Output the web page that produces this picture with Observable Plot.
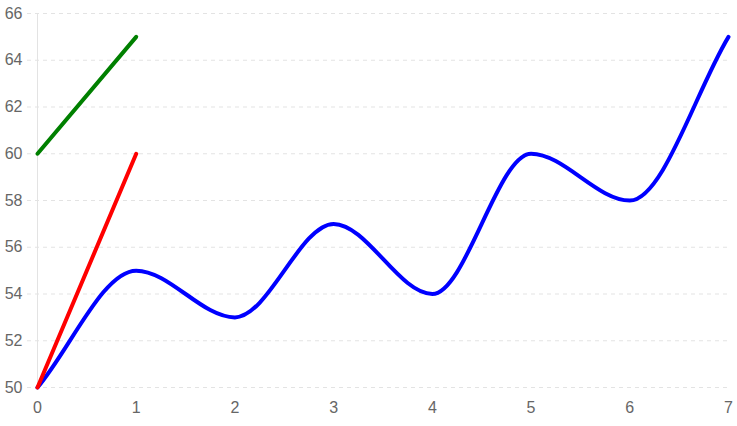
<!DOCTYPE html>
<html><head><meta charset="utf-8">
<script src="https://cdn.jsdelivr.net/npm/d3@7"></script>
<script src="https://cdn.jsdelivr.net/npm/@observablehq/plot@0.6"></script>
<style>body{margin:0;background:#fff}</style>
</head><body><div id="chart"></div>
<script>
const xs = [0,1,2,3,4,5,6,7];
const blueValues = [50,55,53,57,54,60,58,65];
const redX = [0,1];
const redValues = [50,60];
const greenX = [0,1];
const greenValues = [60,65];
const yTicks = [50,52,54,56,58,60,62,64,66];

const blue = xs.map((x,i)=>({x, y: blueValues[i]}));
const red = redX.map((x,i)=>({x, y: redValues[i]}));
const green = greenX.map((x,i)=>({x, y: greenValues[i]}));

// Fritsch–Carlson monotone cubic (one-sided endpoint slopes) as a d3 curve factory
function monotoneFC(context) {
  let pts = [];
  return {
    areaStart() {}, areaEnd() {},
    lineStart() { pts = []; },
    point(x, y) { pts.push([+x, +y]); },
    lineEnd() {
      const n = pts.length;
      if (!n) return;
      context.moveTo(pts[0][0], pts[0][1]);
      if (n === 1) return;
      const d = [], m = new Array(n);
      for (let i = 0; i < n - 1; i++) d[i] = (pts[i+1][1]-pts[i][1])/(pts[i+1][0]-pts[i][0]);
      m[0] = d[0]; m[n-1] = d[n-2];
      for (let i = 1; i < n - 1; i++) {
        m[i] = (d[i-1] === 0 || d[i] === 0 || Math.sign(d[i-1]) !== Math.sign(d[i])) ? 0 : (d[i-1]+d[i])/2;
      }
      for (let i = 0; i < n - 1; i++) {
        if (d[i] === 0) { m[i] = m[i+1] = 0; continue; }
        const a = m[i]/d[i], b = m[i+1]/d[i], s = a*a + b*b;
        if (s > 9) { const t = 3/Math.sqrt(s); m[i] = a*t*d[i]; m[i+1] = b*t*d[i]; }
      }
      for (let i = 0; i < n - 1; i++) {
        const [x0,y0] = pts[i], [x1,y1] = pts[i+1], h = (x1-x0)/3;
        context.bezierCurveTo(x0+h, y0+m[i]*h, x1-h, y1-m[i+1]*h, x1, y1);
      }
    }
  };
}

const chart = Plot.plot({
  width: 737, height: 426,
  marginLeft: 37, marginRight: 9, marginTop: 13, marginBottom: 39,
  style: {fontFamily: "Liberation Sans, Arial, sans-serif", fontSize: "16px", color: "#666", background: "#fff"},
  x: {domain: [0,7], ticks: xs, tickSize: 0, tickPadding: 14, label: null, tickFormat: d=>d},
  y: {domain: [50,66], ticks: yTicks, tickSize: 0, tickPadding: 15, label: null},
  marks: [
    Plot.ruleY(yTicks, {stroke: "#e3e3e3", strokeWidth: 1, strokeDasharray: "4,4", insetLeft: -10}),
    Plot.ruleX([0], {stroke: "#e3e3e3", strokeWidth: 1}),
    Plot.line(blue, {x: "x", y: "y", stroke: "blue", strokeWidth: 4, curve: monotoneFC}),
    Plot.line(red, {x: "x", y: "y", stroke: "red", strokeWidth: 4}),
    Plot.line(green, {x: "x", y: "y", stroke: "green", strokeWidth: 4})
  ]
});
document.getElementById("chart").appendChild(chart);
</script></body></html>
